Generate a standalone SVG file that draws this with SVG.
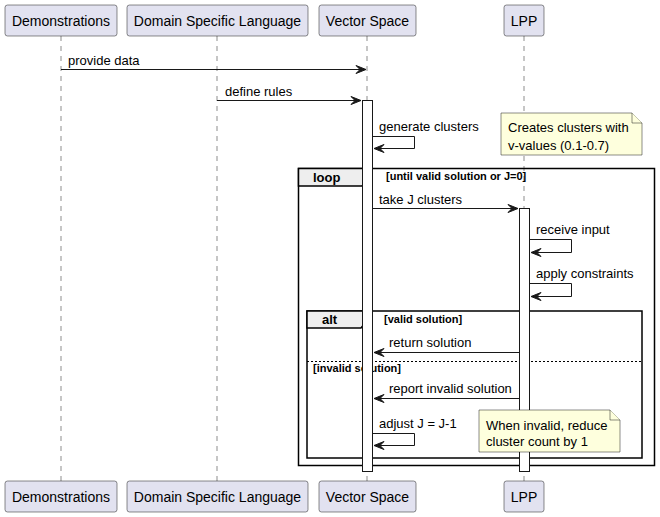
<svg xmlns="http://www.w3.org/2000/svg" width="660" height="517" viewBox="0 0 660 517">
<style>
text{font-family:"Liberation Sans",Arial,sans-serif;fill:#000}
.pbox{fill:#E2E2F0;stroke:#181818;stroke-width:0.5}
.pname{font-size:14px;text-anchor:middle}
.life{stroke:#181818;stroke-width:0.5;stroke-dasharray:5,5;fill:none}
.act{fill:#FFFFFF;stroke:#181818;stroke-width:1}
.msg{stroke:#181818;stroke-width:1;fill:none}
.head{fill:#181818;stroke:#181818;stroke-width:1}
.mt{font-size:13px}
.note{fill:#FEFFDD;stroke:#181818;stroke-width:0.5}
.frame{fill:none;stroke:#000;stroke-width:1.5}
.tab{fill:#EEEEEE;stroke:#000;stroke-width:1.5}
.fl{font-size:13px;font-weight:bold}
.guard{font-size:11px;font-weight:bold}
</style>
<g id="lifelines">
<line class="life" x1="61" y1="36" x2="61" y2="481"/>
<line class="life" x1="217" y1="36" x2="217" y2="481"/>
<line class="life" x1="367" y1="36" x2="367" y2="481"/>
<line class="life" x1="524" y1="36" x2="524" y2="481"/>
</g>
<g id="p-demonstrations">
<rect class="pbox" x="5" y="5" width="112" height="31" rx="2.5"/>
<text class="pname" x="61" y="26">Demonstrations</text>
<rect class="pbox" x="5" y="481" width="112" height="31" rx="2.5"/>
<text class="pname" x="61" y="502">Demonstrations</text>
</g>
<g id="p-dsl">
<rect class="pbox" x="127" y="5" width="181" height="31" rx="2.5"/>
<text class="pname" x="217.5" y="26">Domain Specific Language</text>
<rect class="pbox" x="127" y="481" width="181" height="31" rx="2.5"/>
<text class="pname" x="217.5" y="502">Domain Specific Language</text>
</g>
<g id="p-vectorspace">
<rect class="pbox" x="319" y="5" width="97" height="31" rx="2.5"/>
<text class="pname" x="367.5" y="26">Vector Space</text>
<rect class="pbox" x="319" y="481" width="97" height="31" rx="2.5"/>
<text class="pname" x="367.5" y="502">Vector Space</text>
</g>
<g id="p-lpp">
<rect class="pbox" x="504" y="5" width="40" height="31" rx="2.5"/>
<text class="pname" x="524" y="26">LPP</text>
<rect class="pbox" x="504" y="481" width="40" height="31" rx="2.5"/>
<text class="pname" x="524" y="502">LPP</text>
</g>
<g id="loop-frame">
<rect class="frame" x="298.5" y="168.5" width="356" height="297"/>
<path class="tab" d="M298.5,168.5 L370,168.5 L370,176 L362,186 L298.5,186 Z"/>
<text class="fl" x="313" y="182">loop</text>
<text class="guard" x="386" y="180">[until valid solution or J=0]</text>
</g>
<g id="alt-frame">
<rect class="frame" x="307" y="311" width="335" height="147"/>
<path class="tab" d="M307,311 L369,311 L369,318 L361,328 L307,328 Z"/>
<text class="fl" x="322" y="324">alt</text>
<text class="guard" x="384" y="323">[valid solution]</text>
<line x1="307" y1="361.5" x2="642" y2="361.5" stroke="#000" stroke-width="1" stroke-dasharray="2,2"/>
<text class="guard" x="313" y="372">[invalid solution]</text>
</g>
<g id="activations">
<rect class="act" x="362.5" y="100.5" width="10" height="371"/>
<rect class="act" x="519.5" y="208.5" width="10" height="263"/>
</g>
<g id="note-clusters">
<path class="note" d="M501,113 L632,113 L642,123 L642,155 L501,155 Z"/>
<path class="note" d="M632,113 L632,123 L642,123" fill="none"/>
<text class="mt" x="508" y="132">Creates clusters with</text>
<text class="mt" x="508" y="150">v-values (0.1-0.7)</text>
</g>
<g id="note-invalid">
<path class="note" d="M479,410 L610,410 L620,420 L620,452 L479,452 Z"/>
<path class="note" d="M610,410 L610,420 L620,420" fill="none"/>
<text class="mt" x="486" y="430">When invalid, reduce</text>
<text class="mt" x="486" y="446">cluster count by 1</text>
</g>
<g id="connectors">
<line class="msg" x1="61" y1="69.5" x2="366" y2="69.5"/>
<polygon class="head" points="356,65.5 366,69.5 356,73.5 360,69.5"/>
<text class="mt" x="68" y="65">provide data</text>

<line class="msg" x1="217" y1="100.5" x2="361" y2="100.5"/>
<polygon class="head" points="351,96.5 361,100.5 351,104.5 355,100.5"/>
<text class="mt" x="225" y="96">define rules</text>

<polyline class="msg" points="373,136.5 414.5,136.5 414.5,148.5 374,148.5"/>
<polygon class="head" points="384,144.5 374,148.5 384,152.5 380,148.5"/>
<text class="mt" x="379" y="131">generate clusters</text>

<line class="msg" x1="373" y1="208.5" x2="518" y2="208.5"/>
<polygon class="head" points="508,204.5 518,208.5 508,212.5 512,208.5"/>
<text class="mt" x="379" y="204">take J clusters</text>

<polyline class="msg" points="530,239.5 571.5,239.5 571.5,252.5 531,252.5"/>
<polygon class="head" points="541,248.5 531,252.5 541,256.5 537,252.5"/>
<text class="mt" x="536" y="234">receive input</text>

<polyline class="msg" points="530,283.5 571.5,283.5 571.5,296.5 531,296.5"/>
<polygon class="head" points="541,292.5 531,296.5 541,300.5 537,296.5"/>
<text class="mt" x="536" y="278">apply constraints</text>

<line class="msg" x1="519" y1="352.5" x2="374" y2="352.5"/>
<polygon class="head" points="384,348.5 374,352.5 384,356.5 380,352.5"/>
<text class="mt" x="389" y="347">return solution</text>

<line class="msg" x1="519" y1="398.5" x2="374" y2="398.5"/>
<polygon class="head" points="384,394.5 374,398.5 384,402.5 380,398.5"/>
<text class="mt" x="389" y="393">report invalid solution</text>

<polyline class="msg" points="373,433.5 414.5,433.5 414.5,445.5 374,445.5"/>
<polygon class="head" points="384,441.5 374,445.5 384,449.5 380,445.5"/>
<text class="mt" x="379" y="428">adjust J = J-1</text>
</g>
</svg>
